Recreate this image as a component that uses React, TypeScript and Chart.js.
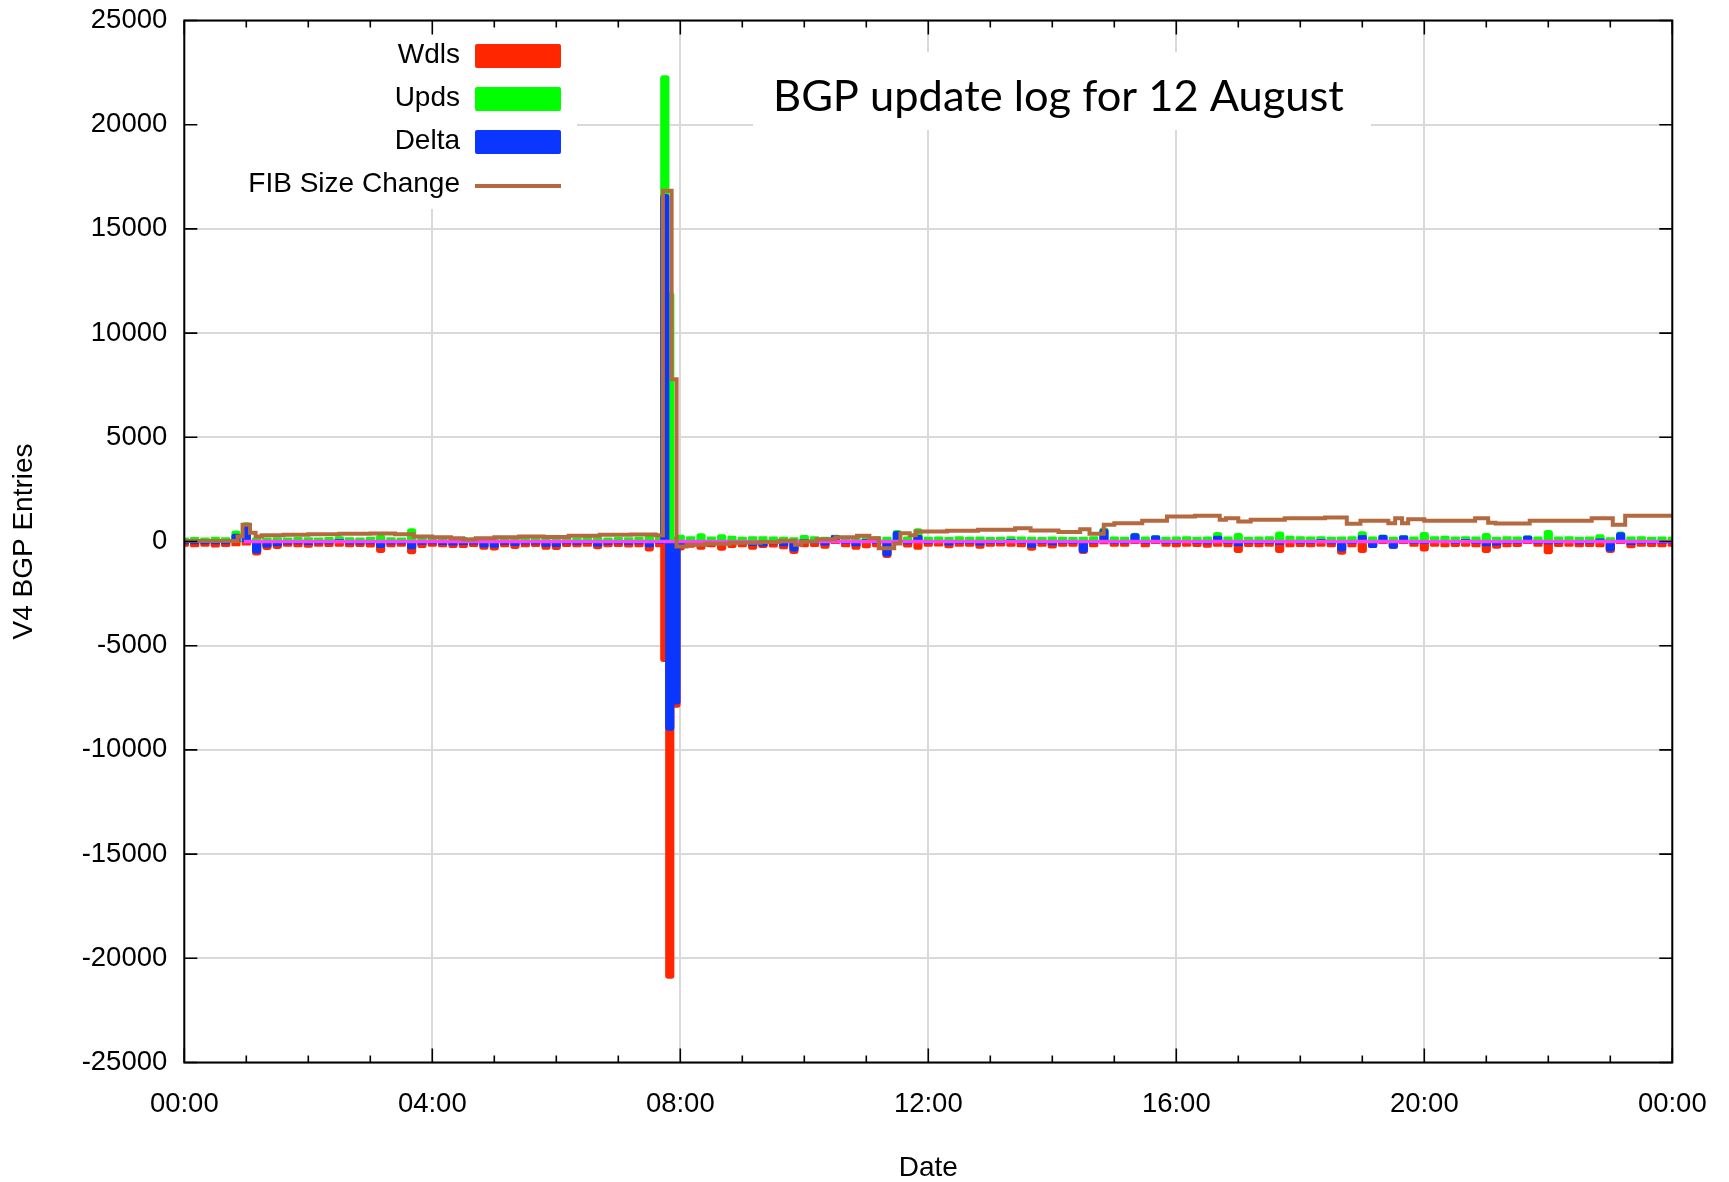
import React, { useEffect, useRef } from 'react';
import { Chart, registerables } from 'chart.js';

Chart.register(...registerables);

// ---------- data ----------
const xTickLabels = ['00:00', '04:00', '08:00', '12:00', '16:00', '20:00', '00:00'];
const slotMinutes = 10; // one sample every 10 minutes, 00:00 .. 24:00

const upds = [
  120, 140, 110, 150, 130, 450, 850, 100, 120, 130, 110, 140,
  130, 120, 140, 180, 130, 120, 150, 240, 130, 120, 560, 150,
  120, 110, 130, 140, 120, 110, 130, 120, 140, 130, 120, 150,
  140, 130, 120, 150, 130, 120, 140, 130, 150, 200, 180, 160,
  250, 180, 320, 160, 270, 200, 150, 180, 170, 160, 150, 130,
  240, 180, 150, 250, 160, 170, 260, 180, 150, 470, 160, 560,
  150, 160, 140, 170, 150, 160, 140, 150, 180, 160, 150, 140,
  160, 150, 140, 150, 170, 600, 160, 150, 340, 160, 230, 150,
  160, 170, 150, 160, 380, 160, 330, 150, 160, 170, 400, 200,
  170, 160, 180, 150, 160, 170, 420, 160, 260, 150, 230, 160,
  380, 170, 200, 160, 180, 160, 330, 150, 170, 160, 220, 160,
  480, 160, 170, 150, 160, 270, 130, 400, 160, 170, 150, 160, 150,
];

const wdls = [
  -180, -200, -170, -210, -190, -150, -120, -600, -330, -280, -180, -200,
  -220, -180, -190, -170, -200, -190, -210, -480, -200, -180, -540, -230,
  -170, -200, -240, -230, -190, -320, -350, -200, -280, -200, -190, -320,
  -330, -190, -200, -180, -290, -200, -190, -210, -200, -400, -200, -210,
  -350, -220, -320, -200, -370, -230, -200, -320, -240, -210, -300, -520,
  -200, -190, -270, -20, -200, -320, -250, -200, -720, -40, -210, -320,
  -170, -160, -250, -180, -170, -270, -180, -160, -170, -200, -370, -180,
  -260, -180, -170, -520, -200, -60, -170, -180, -20, -200, -20, -180,
  -200, -170, -190, -220, -180, -200, -480, -190, -200, -180, -480, -200,
  -190, -200, -170, -200, -560, -200, -470, -240, -30, -270, -20, -180,
  -400, -170, -200, -190, -170, -200, -480, -270, -200, -190, -20, -180,
  -530, -190, -170, -200, -190, -200, -480, -30, -250, -180, -190, -200, -180,
];

const delta = [
  -60, -60, -60, -60, -60, 300, 730, -500, -210, -150, -70, -60,
  -90, -60, -50, 10, -70, -70, -60, -240, -70, -60, -300, -80,
  -50, -90, -110, -90, -70, -210, -220, -80, -140, -70, -70, -170,
  -190, -60, -80, -30, -160, -80, -50, -80, -50, -200, -20, -50,
  -150, -40, 0, -40, -100, -30, -50, -140, -160, -50, -150, -400,
  40, -10, -120, 230, -40, -150, 10, -20, -640, 430, -50, 240,
  -20, 0, -110, -10, -20, -110, -40, -10, 10, -40, -220, -40,
  -100, -30, -30, -480, -30, 540, -10, -30, 320, -40, 210, -30,
  -40, 0, -40, -60, 200, -40, -150, -40, -40, -10, -80, 0,
  -20, -40, 10, -50, -400, -30, 240, -240, 230, -270, 210, -20,
  -20, 0, 0, -30, 10, -40, -150, -120, -30, -30, 200, -20,
  -50, -30, 0, -50, -30, 70, -400, 370, -90, -10, -40, -40, -30,
];

// the burst just before 08:00 (hours)
const spikeHours = [7.75, 7.83, 7.93];
const spikeUpds = [22300, 11900, 150];
const spikeWdls = [-5700, -20900, -7900];
const spikeDelta = [16600, -9000, -7750];

// FIB size change, step line (hours, value held from that time on)
const fibHours = [
  0, 0.86, 0.94, 1.06, 1.15, 1.25, 1.6, 2.0, 2.5, 3.0, 3.4, 3.7, 4.0, 4.3, 4.5, 4.7,
  5.0, 5.4, 5.8, 6.2, 6.7, 7.2, 7.6, 7.72, 7.86, 7.94, 8.1, 8.4, 8.8, 9.3, 9.6, 9.85,
  9.95, 10.2, 10.5, 10.85, 11.05, 11.2, 11.45, 11.55, 11.7, 11.8, 12.3, 12.8, 13.4, 13.65,
  14.1, 14.45, 14.6, 14.83, 15.0, 15.45, 15.85, 16.3, 16.7, 16.8, 17.0, 17.2, 17.75, 18.4,
  18.75, 18.97, 19.42, 19.53, 19.64, 19.74, 20.0, 20.82, 21.03, 21.15, 21.7, 22.7, 23.04,
  23.24, 24.0,
];
const fibValues = [
  20, 240, 800, 420, 240, 300, 320, 350, 370, 380, 350, 240, 200, 150, 100, 150,
  200, 240, 220, 270, 320, 340, 300, 16830, 7780, -240, -160, -110, -60, -20, 30, -150,
  0, 110, 200, 270, 160, -320, -100, 400, 300, 480, 520, 560, 640, 530,
  460, 590, 370, 800, 880, 1000, 1200, 1230, 1040, 1120, 960, 1040, 1120, 1150,
  850, 1000, 880, 1120, 880, 1070, 1000, 1120, 900, 860, 1000, 1120, 800,
  1230, 1260,
];

const zeroHours = [0.96, 24];
const zeroValues = [0, 0];

const legendLabels = ['Wdls', 'Upds', 'Delta', 'FIB Size Change'];
const titleText = 'BGP update log for 12 August';

// ---------- styles ----------
const RED = '#ff2600';
const GREEN = '#00ff00';
const BLUE = '#0a36ff';
const BROWN = '#b4693f';
const MAGENTA = '#ff40ff';
const GRID = '#d9d9d9';
const FONT = '"Liberation Sans", Arial, sans-serif';

const toPoints = (xs: number[], ys: number[]) => xs.map((x, i) => ({ x, y: ys[i] }));

export default function App() {
  const ref = useRef<HTMLCanvasElement | null>(null);

  useEffect(() => {
    if (!ref.current) return;
    const slotHours = upds.map((_, i) => (i * slotMinutes) / 60);

    const decor = {
      id: 'decor',
      beforeDatasetsDraw(chart: any) {
        const ctx = chart.ctx;
        ctx.save();
        ctx.fillStyle = '#ffffff';
        // key box and title box (opaque)
        ctx.fillRect(185, 22, 392, 187);
        ctx.fillRect(753, 52, 618, 78);
        ctx.restore();
      },
      afterDatasetsDraw(chart: any) {
        const ctx = chart.ctx;
        const a = chart.chartArea;
        const xs = chart.scales.x;
        const ys = chart.scales.y;
        ctx.save();
        ctx.strokeStyle = '#000';
        ctx.lineWidth = 2;
        ctx.strokeRect(a.left, a.top, a.right - a.left, a.bottom - a.top);
        ctx.lineWidth = 1.6;
        ctx.beginPath();
        xs.ticks.forEach((t: any) => {
          const px = xs.getPixelForValue(t.value);
          const len = t.value % 4 === 0 ? 14 : 7;
          ctx.moveTo(px, a.bottom);
          ctx.lineTo(px, a.bottom - len);
          ctx.moveTo(px, a.top);
          ctx.lineTo(px, a.top + len);
        });
        ys.ticks.forEach((t: any) => {
          const py = ys.getPixelForValue(t.value);
          ctx.moveTo(a.left, py);
          ctx.lineTo(a.left + 13, py);
          ctx.moveTo(a.right, py);
          ctx.lineTo(a.right - 13, py);
        });
        ctx.stroke();

        // key
        const colors = [RED, GREEN, BLUE];
        ctx.font = `28px ${FONT}`;
        ctx.textAlign = 'right';
        ctx.textBaseline = 'middle';
        legendLabels.forEach((label, i) => {
          const cy = 55 + i * 43;
          ctx.fillStyle = '#000';
          ctx.fillText(label, 460, cy);
          if (i < 3) {
            ctx.fillStyle = colors[i];
            ctx.beginPath();
            (ctx as any).roundRect ? ctx.roundRect(475, cy - 11, 86, 24, 2) : ctx.rect(475, cy - 11, 86, 24);
            ctx.fill();
          } else {
            ctx.strokeStyle = BROWN;
            ctx.lineWidth = 4;
            ctx.beginPath();
            ctx.moveTo(475, cy + 2);
            ctx.lineTo(561, cy + 2);
            ctx.stroke();
          }
        });

        // title, sized to the reference width
        ctx.font = '42px Lato, "Open Sans", sans-serif';
        const w = ctx.measureText(titleText).width;
        const size = (42 * 571) / w;
        ctx.font = `${size}px Lato, "Open Sans", sans-serif`;
        ctx.textAlign = 'center';
        ctx.textBaseline = 'alphabetic';
        ctx.fillStyle = '#000';
        ctx.fillText(titleText, 1058.5, 110.5);
        ctx.restore();
      },
    };

    const barCommon = { grouped: false, barThickness: 6, inflateAmount: 1.6, borderWidth: 0, borderRadius: 3 };

    const chart = new Chart(ref.current, {
      type: 'bar',
      data: {
        datasets: [
          {
            type: 'line',
            label: 'FIB Size Change',
            data: toPoints(fibHours, fibValues),
            borderColor: BROWN,
            borderWidth: 4,
            pointRadius: 0,
            stepped: true,
            fill: false,
            order: 0,
          } as any,
          {
            type: 'line',
            label: 'zero',
            data: toPoints(zeroHours, zeroValues),
            borderColor: MAGENTA,
            borderWidth: 3.5,
            pointRadius: 0,
            fill: false,
            order: 1,
          } as any,
          {
            label: 'Delta',
            data: [...toPoints(slotHours, delta), ...toPoints(spikeHours, spikeDelta)],
            backgroundColor: BLUE,
            order: 2,
            ...barCommon,
          } as any,
          {
            label: 'Upds',
            data: [...toPoints(slotHours, upds), ...toPoints(spikeHours, spikeUpds)],
            backgroundColor: GREEN,
            order: 3,
            ...barCommon,
          } as any,
          {
            label: 'Wdls',
            data: [...toPoints(slotHours, wdls), ...toPoints(spikeHours, spikeWdls)],
            backgroundColor: RED,
            order: 4,
            ...barCommon,
          } as any,
        ],
      },
      options: {
        responsive: false,
        animation: false,
        devicePixelRatio: 1,
        layout: { padding: { left: 0, right: 56.7, top: 20.5, bottom: 0 } },
        plugins: {
          legend: { display: false },
          tooltip: { enabled: false },
          title: { display: false },
        },
        scales: {
          x: {
            type: 'linear',
            min: 0,
            max: 24,
            offset: false,
            ticks: {
              stepSize: 1,
              autoSkip: false,
              maxRotation: 0,
              padding: 25,
              color: '#000',
              font: { family: FONT, size: 27.5 },
              callback: (v: any) => (Number(v) % 4 === 0 ? xTickLabels[Number(v) / 4] : ''),
            },
            grid: {
              offset: false,
              drawTicks: false,
              lineWidth: 2,
              color: (c: any) => (c.tick && c.tick.value % 4 === 0 ? GRID : 'rgba(0,0,0,0)'),
            },
            border: { display: false },
            title: {
              display: true,
              text: 'Date',
              color: '#000',
              font: { family: FONT, size: 28, lineHeight: 1 },
              padding: { top: 0, bottom: 0 },
            },
            afterFit: (s: any) => {
              s.height = 119.5;
              s.paddingLeft = 0;
              s.paddingRight = 0;
            },
          },
          y: {
            min: -25000,
            max: 25000,
            ticks: {
              stepSize: 5000,
              padding: 17,
              color: '#000',
              font: { family: FONT, size: 27.5 },
              callback: (v: any) => String(v),
            },
            grid: { drawTicks: false, lineWidth: 2, color: GRID },
            border: { display: false },
            title: {
              display: true,
              text: 'V4 BGP Entries',
              color: '#000',
              font: { family: FONT, size: 28, lineHeight: 1 },
              padding: { top: 10, bottom: 0 },
            },
            afterFit: (s: any) => {
              s.width = 184.3;
              s.paddingTop = 0;
              s.paddingBottom = 0;
            },
          },
        },
      } as any,
      plugins: [decor],
    });
    return () => chart.destroy();
  }, []);

  return (
    <div style={{ position: 'absolute', left: 0, top: 0, width: 1729, height: 1182, background: '#fff' }}>
      <canvas ref={ref} width={1729} height={1182} style={{ width: 1729, height: 1182, display: 'block' }} />
    </div>
  );
}
